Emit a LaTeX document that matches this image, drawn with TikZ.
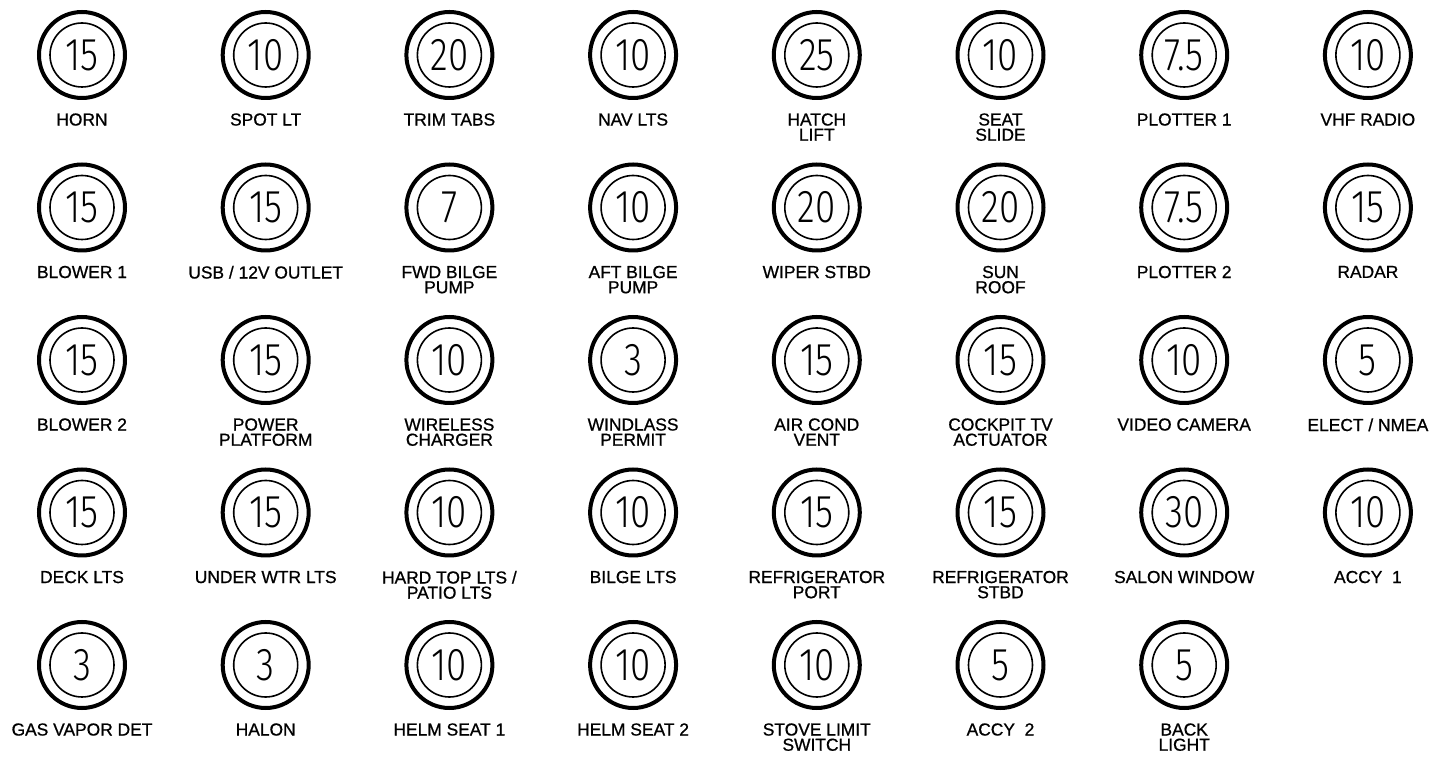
\documentclass[tikz,border=0pt]{standalone}
\usepackage{fontspec}
\usepackage{graphicx}
\setmainfont{Liberation Sans}
\newfontfamily\lblfont[FakeBold=0.8]{Liberation Sans}
\newfontfamily\ampfont{Fira Sans Light}
\usetikzlibrary{positioning}

\begin{document}
\begin{tikzpicture}[x=0.5pt,y=-0.5pt,
  outer/.style={circle,draw,line width=2pt,minimum size=43pt,inner sep=0pt},
  inner/.style={circle,draw,line width=0.8pt,minimum size=32pt,inner sep=0pt,
    font=\ampfont\fontsize{23}{23}\selectfont},
  lbl/.style={align=center,inner sep=0pt,font=\lblfont\fontsize{8.7}{7.6}\selectfont}]
 \useasboundingbox (0,0) rectangle (1448,764);
 % breaker panel: column/row/amps/label
 \foreach \c/\r/\a/\t in {
   1/1/15/HORN, 2/1/10/SPOT LT, 3/1/20/TRIM TABS, 4/1/10/NAV LTS,
   5/1/25/{HATCH\\LIFT}, 6/1/10/{SEAT\\SLIDE}, 7/1/7.5/PLOTTER 1, 8/1/10/VHF RADIO,
   1/2/15/BLOWER 1, 2/2/15/{USB / 12V OUTLET}, 3/2/7/{FWD BILGE\\PUMP},
   4/2/10/{AFT BILGE\\PUMP}, 5/2/20/WIPER STBD, 6/2/20/{SUN\\ROOF},
   7/2/7.5/PLOTTER 2, 8/2/15/RADAR,
   1/3/15/BLOWER 2, 2/3/15/{POWER\\PLATFORM}, 3/3/10/{WIRELESS\\CHARGER},
   4/3/3/{WINDLASS\\PERMIT}, 5/3/15/{AIR COND\\VENT}, 6/3/15/{COCKPIT TV\\ACTUATOR},
   7/3/10/VIDEO CAMERA, 8/3/5/{ELECT / NMEA},
   1/4/15/DECK LTS, 2/4/15/UNDER WTR LTS, 3/4/10/{HARD TOP LTS /\\PATIO LTS},
   4/4/10/BILGE LTS, 5/4/15/{REFRIGERATOR\\PORT}, 6/4/15/{REFRIGERATOR\\STBD},
   7/4/30/SALON WINDOW, 8/4/10/ACCY~~1,
   1/5/3/GAS VAPOR DET, 2/5/3/HALON, 3/5/10/HELM SEAT 1, 4/5/10/HELM SEAT 2,
   5/5/10/{STOVE LIMIT\\SWITCH}, 6/5/5/ACCY~~2, 7/5/5/{BACK\\LIGHT}}
 {
  \node[outer] (brk-\r-\c) at ({82+183.7*(\c-1)},{55+152.5*(\r-1)}) {};
  \node[inner] (amp-\r-\c) at (brk-\r-\c) {\scalebox{0.8}[1]{\a}};
  \node[lbl,below=6.5pt of brk-\r-\c] (lbl-\r-\c) {\t};
 }
\end{tikzpicture}
\end{document}
